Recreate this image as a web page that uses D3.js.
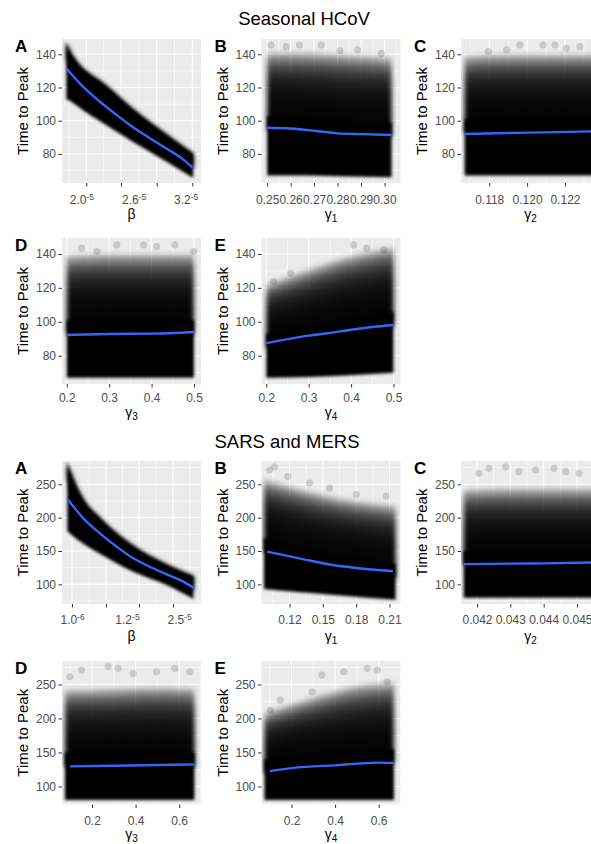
<!DOCTYPE html>
<html>
<head>
<meta charset="utf-8">
<title>Time to Peak</title>
<script src="https://cdn.jsdelivr.net/npm/d3@7"></script>
<style>
  body { margin: 0; background: #fff; }
  svg { display: block; font-family: "Liberation Sans", Arial, sans-serif; }
</style>
</head>
<body>
<script>
// ---------- Seasonal HCoV ----------
const hcovYTicks = [80, 100, 120, 140];
const hcovRow1Y = [62.5, 149.2];
const hcovRow2Y = [63.3, 149.4];

// A: beta (units of 1e-5)
const hcovBetaRange  = [1.77, 3.37];
const hcovBeta       = [1.82, 1.86, 1.93, 2.05, 2.2, 2.58, 2.97, 3.28];
const hcovBetaLow    = [113, 112, 109.5, 105, 100, 87.5, 75.5, 65.5];
const hcovBetaHigh   = [147, 142, 136, 129.5, 124, 107, 91.5, 80];
const hcovBetaFitX   = [1.82, 2.0, 2.2, 2.39, 2.58, 2.77, 2.97, 3.16, 3.27];
const hcovBetaFitY   = [131.6, 121.1, 111.7, 103.8, 96.4, 89.9, 83.3, 76.9, 71.9];
const hcovBetaTicks  = [2.05, 2.45, 2.86, 3.27];
const hcovBetaLabels = [[2.0, "2.0", "-5"], [2.6, "2.6", "-5"], [3.2, "3.2", "-5"]];

// B: gamma1
const hcovG1Range = [0.2476, 0.3068];
const hcovG1      = [0.25, 0.265, 0.28, 0.303];
const hcovG1Low   = [67, 67, 66.5, 66];
const hcovG1Solid = [103, 102, 100, 99];
const hcovG1High  = [141, 141, 140, 138];
const hcovG1FitX  = [0.25, 0.26, 0.27, 0.28, 0.29, 0.303];
const hcovG1FitY  = [95.8, 95.3, 94.0, 92.4, 91.9, 91.4];
const hcovG1Dots  = [[0.2517, 145.6], [0.2581, 144.6], [0.2638, 145.6], [0.273, 145.6], [0.281, 142.2], [0.2886, 142.6], [0.2986, 140.6]];
const hcovG1Ticks = [0.25, 0.26, 0.27, 0.28, 0.29, 0.30];

// C: gamma2
const hcovG2Range = [0.11651, 0.12385];
const hcovG2      = [0.1167, 0.119, 0.121, 0.1238];
const hcovG2Low   = [67, 67, 67, 67];
const hcovG2Solid = [101, 102, 102, 102];
const hcovG2High  = [139, 140, 140, 140];
const hcovG2FitX  = [0.1167, 0.119, 0.121, 0.1238];
const hcovG2FitY  = [92.0, 92.6, 93.0, 93.7];
const hcovG2Dots  = [[0.11795, 141.6], [0.11892, 142.6], [0.11962, 145.6], [0.12085, 145.6], [0.12147, 145.6], [0.12208, 143.6], [0.12279, 144.6]];
const hcovG2Ticks = [0.118, 0.120, 0.122];

// D: gamma3
const hcovG3Range = [0.1887, 0.5165];
const hcovG3      = [0.2, 0.3, 0.4, 0.5];
const hcovG3Low   = [67, 67, 67, 67];
const hcovG3Solid = [101, 101, 101, 101];
const hcovG3High  = [139, 140, 140, 140];
const hcovG3FitX  = [0.2, 0.3, 0.4, 0.5];
const hcovG3FitY  = [92.2, 92.8, 93.0, 94.0];
const hcovG3Dots  = [[0.235, 143.4], [0.271, 141.4], [0.318, 145.3], [0.381, 145.3], [0.412, 144.4], [0.455, 145.3], [0.499, 141.4]];
const hcovG3Ticks = [0.2, 0.3, 0.4, 0.5];

// E: gamma4
const hcovG4Range = [0.1887, 0.5165];
const hcovG4      = [0.2, 0.3, 0.4, 0.5];
const hcovG4Low   = [67, 67.5, 68.5, 70];
const hcovG4Solid = [93, 97, 102, 106];
const hcovG4High  = [122, 131, 139, 144];
const hcovG4FitX  = [0.2, 0.3, 0.35, 0.4, 0.45, 0.5];
const hcovG4FitY  = [87.4, 91.8, 93.4, 95.3, 96.9, 98.1];
const hcovG4Dots  = [[0.217, 123.7], [0.257, 128.6], [0.406, 145.3], [0.437, 143.4], [0.477, 142.4]];
const hcovG4Ticks = [0.2, 0.3, 0.4, 0.5];

// ---------- SARS and MERS ----------
const sarsYTicks = [100, 150, 200, 250];
const sarsRow1Y = [70.5, 285];
const sarsRow2Y = [73.5, 284.4];

// A: beta (units of 1e-5)
const sarsBetaRange  = [-0.12, 3.0];
const sarsBeta       = [0.0, 0.13, 0.36, 0.73, 1.48, 2.23, 2.83];
const sarsBetaLow    = [180, 172, 161, 146, 119, 99, 78];
const sarsBetaHigh   = [282, 258, 227, 199, 157, 129, 112];
const sarsBetaFitX   = [0.02, 0.36, 0.73, 1.11, 1.48, 1.86, 2.23, 2.6, 2.83];
const sarsBetaFitY   = [226.5, 199, 176.5, 156.4, 139, 126, 115, 104, 95];
const sarsBetaTicks  = [0.104, 0.868, 1.608, 2.372];
const sarsBetaLabels = [[0.12, "1.0", "-6"], [1.35, "1.2", "-5"], [2.52, "2.5", "-5"]];

// B: gamma1
const sarsG1Range = [0.0948, 0.2199];
const sarsG1      = [0.097, 0.13, 0.16, 0.19, 0.2155];
const sarsG1Low   = [93, 88, 84, 80, 77];
const sarsG1Solid = [170, 155, 145, 137, 130];
const sarsG1High  = [258, 243, 231, 223, 218];
const sarsG1FitX  = [0.0999, 0.129, 0.159, 0.189, 0.213];
const sarsG1FitY  = [149, 139, 129, 123, 119.6];
const sarsG1Dots  = [[0.102, 271.5], [0.1065, 276.3], [0.1185, 261.6], [0.138, 252], [0.156, 244.6], [0.18, 234.7], [0.207, 232.3]];
const sarsG1Ticks = [0.12, 0.15, 0.18, 0.21];

// C: gamma2
const sarsG2Range = [0.04152, 0.04569];
const sarsG2      = [0.0416, 0.043, 0.044, 0.0458];
const sarsG2Low   = [80, 80, 80, 80];
const sarsG2Solid = [150, 150, 150, 150];
const sarsG2High  = [242, 244, 244, 244];
const sarsG2FitX  = [0.0416, 0.043, 0.044, 0.0458];
const sarsG2FitY  = [130.3, 131, 131.5, 133];
const sarsG2Dots  = [[0.04206, 266.6], [0.04236, 274], [0.04286, 276.3], [0.04326, 269], [0.04376, 271.5], [0.04431, 274], [0.04466, 269], [0.04506, 266.6]];
const sarsG2Ticks = [0.042, 0.043, 0.044, 0.045];

// D: gamma3
const sarsG3Range = [0.0625, 0.700];
const sarsG3      = [0.076, 0.3, 0.5, 0.67];
const sarsG3Low   = [80, 80, 80, 80];
const sarsG3Solid = [150, 150, 150, 150];
const sarsG3High  = [242, 244, 246, 244];
const sarsG3FitX  = [0.1, 0.3, 0.5, 0.67];
const sarsG3FitY  = [129.5, 130.5, 131.5, 132.4];
const sarsG3Dots  = [[0.099, 261.2], [0.152, 271], [0.274, 276], [0.32, 273.6], [0.389, 266.2], [0.496, 268.6], [0.58, 273.6], [0.649, 268.6]];
const sarsG3Ticks = [0.2, 0.4, 0.6];

// E: gamma4
const sarsG4Range = [0.0625, 0.700];
const sarsG4      = [0.076, 0.3, 0.5, 0.67];
const sarsG4Low   = [80, 80, 80, 80];
const sarsG4Solid = [140, 148, 152, 155];
const sarsG4High  = [208, 231, 248, 253];
const sarsG4FitX  = [0.1, 0.2, 0.3, 0.4, 0.5, 0.6, 0.67];
const sarsG4FitY  = [122.6, 127, 129.5, 131, 133.5, 135, 134.5];
const sarsG4Dots  = [[0.103, 212], [0.149, 226.8], [0.295, 239], [0.34, 263.7], [0.44, 268.6], [0.547, 273.6], [0.593, 271], [0.639, 253.8]];
const sarsG4Ticks = [0.2, 0.4, 0.6];

// ---------- layout ----------
const W = 139;
const colLeft = [62, 261.5, 461];
const rows = [
  {top: 39,  h: 144,   pad: 9,   titleY: 219, yDomain: hcovRow1Y, yTicks: hcovYTicks},
  {top: 238, h: 146,   pad: 5.5, titleY: 417, yDomain: hcovRow2Y, yTicks: hcovYTicks},
  {top: 461, h: 143,   pad: 8,   titleY: 641, yDomain: sarsRow1Y, yTicks: sarsYTicks},
  {top: 661, h: 143.5, pad: 8,   titleY: 839, yDomain: sarsRow2Y, yTicks: sarsYTicks}
];

const panels = [
  {row: 0, col: 0, letter: "A", title: ["β"], range: hcovBetaRange, x: hcovBeta, low: hcovBetaLow, solid: hcovBetaHigh, high: hcovBetaHigh,
   fitX: hcovBetaFitX, fitY: hcovBetaFitY, dots: [], ticks: hcovBetaTicks, labels: hcovBetaLabels},
  {row: 0, col: 1, letter: "B", title: ["γ", "1"], range: hcovG1Range, x: hcovG1, low: hcovG1Low, solid: hcovG1Solid, high: hcovG1High,
   fitX: hcovG1FitX, fitY: hcovG1FitY, dots: hcovG1Dots, ticks: hcovG1Ticks, fmt: ".2f"},
  {row: 0, col: 2, letter: "C", title: ["γ", "2"], range: hcovG2Range, x: hcovG2, low: hcovG2Low, solid: hcovG2Solid, high: hcovG2High,
   fitX: hcovG2FitX, fitY: hcovG2FitY, dots: hcovG2Dots, ticks: hcovG2Ticks, fmt: ".3f"},
  {row: 1, col: 0, letter: "D", title: ["γ", "3"], range: hcovG3Range, x: hcovG3, low: hcovG3Low, solid: hcovG3Solid, high: hcovG3High,
   fitX: hcovG3FitX, fitY: hcovG3FitY, dots: hcovG3Dots, ticks: hcovG3Ticks, fmt: ".1f"},
  {row: 1, col: 1, letter: "E", title: ["γ", "4"], range: hcovG4Range, x: hcovG4, low: hcovG4Low, solid: hcovG4Solid, high: hcovG4High,
   fitX: hcovG4FitX, fitY: hcovG4FitY, dots: hcovG4Dots, ticks: hcovG4Ticks, fmt: ".1f"},
  {row: 2, col: 0, letter: "A", title: ["β"], range: sarsBetaRange, x: sarsBeta, low: sarsBetaLow, solid: sarsBetaHigh, high: sarsBetaHigh,
   fitX: sarsBetaFitX, fitY: sarsBetaFitY, dots: [], ticks: sarsBetaTicks, labels: sarsBetaLabels},
  {row: 2, col: 1, letter: "B", title: ["γ", "1"], range: sarsG1Range, x: sarsG1, low: sarsG1Low, solid: sarsG1Solid, high: sarsG1High,
   fitX: sarsG1FitX, fitY: sarsG1FitY, dots: sarsG1Dots, ticks: sarsG1Ticks, fmt: ".2f"},
  {row: 2, col: 2, letter: "C", title: ["γ", "2"], range: sarsG2Range, x: sarsG2, low: sarsG2Low, solid: sarsG2Solid, high: sarsG2High,
   fitX: sarsG2FitX, fitY: sarsG2FitY, dots: sarsG2Dots, ticks: sarsG2Ticks, fmt: ".3f"},
  {row: 3, col: 0, letter: "D", title: ["γ", "3"], range: sarsG3Range, x: sarsG3, low: sarsG3Low, solid: sarsG3Solid, high: sarsG3High,
   fitX: sarsG3FitX, fitY: sarsG3FitY, dots: sarsG3Dots, ticks: sarsG3Ticks, fmt: ".1f"},
  {row: 3, col: 1, letter: "E", title: ["γ", "4"], range: sarsG4Range, x: sarsG4, low: sarsG4Low, solid: sarsG4Solid, high: sarsG4High,
   fitX: sarsG4FitX, fitY: sarsG4FitY, dots: sarsG4Dots, ticks: sarsG4Ticks, fmt: ".1f"}
];

const FONT = "Liberation Sans, Arial, sans-serif";

const svg = d3.select("body").append("svg")
  .attr("width", 591)
  .attr("height", 844);

const defs = svg.append("defs");
defs.append("filter").attr("id", "soft")
  .attr("x", "-5%").attr("y", "-5%").attr("width", "110%").attr("height", "110%")
  .append("feGaussianBlur").attr("stdDeviation", 1.6);
defs.append("filter").attr("id", "haze")
  .attr("x", "-10%").attr("y", "-10%").attr("width", "120%").attr("height", "120%")
  .append("feGaussianBlur").attr("stdDeviation", 2.6);

svg.append("text").attr("x", 304).attr("y", 25)
  .attr("text-anchor", "middle").attr("font-size", 18.5)
  .text("Seasonal HCoV");
svg.append("text").attr("x", 287).attr("y", 448)
  .attr("text-anchor", "middle").attr("font-size", 18.5)
  .text("SARS and MERS");

// midpoints between ticks, plus half a step past each end
function minorOf(t) {
  const s = t[1] - t[0], e = t[t.length - 1] - t[t.length - 2];
  const mids = t.slice(1).map((v, k) => (v + t[k]) / 2);
  return [t[0] - s / 2, ...mids, t[t.length - 1] + e / 2];
}

panels.forEach((p, i) => {
  const r = rows[p.row];
  const left = colLeft[p.col];
  const g = svg.append("g").attr("transform", `translate(${left},${r.top})`);

  const x = d3.scaleLinear().domain(p.range).range([0, W]);
  const y = d3.scaleLinear().domain(r.yDomain).range([r.h, 0]);
  const inX = v => v >= p.range[0] && v <= p.range[1];
  const inY = v => v >= r.yDomain[0] && v <= r.yDomain[1];

  g.append("rect").attr("width", W).attr("height", r.h).attr("fill", "#ebebeb");

  // grid
  g.selectAll(".gx-minor").data(minorOf(p.ticks).filter(inX)).join("line")
    .attr("x1", d => x(d)).attr("x2", d => x(d)).attr("y1", 0).attr("y2", r.h)
    .attr("stroke", "#fff").attr("stroke-width", 0.55);
  g.selectAll(".gy-minor").data(minorOf(r.yTicks).filter(inY)).join("line")
    .attr("x1", 0).attr("x2", W).attr("y1", d => y(d)).attr("y2", d => y(d))
    .attr("stroke", "#fff").attr("stroke-width", 0.55);
  g.selectAll(".gx").data(p.ticks.filter(inX)).join("line")
    .attr("x1", d => x(d)).attr("x2", d => x(d)).attr("y1", 0).attr("y2", r.h)
    .attr("stroke", "#fff").attr("stroke-width", 1.1);
  g.selectAll(".gy").data(r.yTicks).join("line")
    .attr("x1", 0).attr("x2", W).attr("y1", d => y(d)).attr("y2", d => y(d))
    .attr("stroke", "#fff").attr("stroke-width", 1.1);

  // point cloud: solid core plus stacked translucent layers fading upward
  defs.append("clipPath").attr("id", "clip" + i)
    .append("rect").attr("width", W).attr("height", r.h);
  const cloud = g.append("g").attr("clip-path", `url(#clip${i})`);
  const idx = d3.range(p.x.length);
  const band = (bottom, top) => d3.area().curve(d3.curveMonotoneX)
    .x(k => x(p.x[k])).y0(bottom).y1(top);

  const haze = cloud.append("g").attr("filter", "url(#haze)");
  const N = 16;
  for (let n = 1; n <= N; n++) {
    haze.append("path")
      .attr("d", band(k => y(p.solid[k]) + 14, k => y(p.solid[k] + (p.high[k] - p.solid[k]) * n / N))(idx))
      .attr("fill", "#000").attr("fill-opacity", 0.24);
  }
  cloud.append("g").attr("filter", "url(#soft)")
    .append("path").attr("d", band(k => y(p.low[k]), k => y(p.solid[k]))(idx))
    .attr("fill", "#000");

  cloud.selectAll("circle").data(p.dots).join("circle")
    .attr("cx", d => x(d[0])).attr("cy", d => y(d[1])).attr("r", 3.6)
    .attr("fill", "#000").attr("fill-opacity", 0.15);

  // smooth fit
  cloud.append("path")
    .attr("d", d3.line().curve(d3.curveMonotoneX)
      .x(k => x(p.fitX[k])).y(k => y(p.fitY[k]))(d3.range(p.fitX.length)))
    .attr("fill", "none").attr("stroke", "#3366ff").attr("stroke-width", 2.4);

  // axes
  const ya = g.append("g")
    .call(d3.axisLeft(y).tickValues(r.yTicks).tickSize(3.5).tickPadding(2.5).tickFormat(d3.format("d")));
  ya.select(".domain").remove();
  ya.attr("font-family", FONT).attr("font-size", 12).attr("color", "#333");
  ya.selectAll("text").attr("fill", "#4d4d4d");

  const xa = g.append("g").attr("transform", `translate(0,${r.h})`)
    .call(d3.axisBottom(x).tickValues(p.ticks.filter(inX)).tickSize(3.5).tickPadding(r.pad)
      .tickFormat(p.labels ? () => "" : d3.format(p.fmt)));
  xa.select(".domain").remove();
  xa.attr("font-family", FONT).attr("font-size", 12).attr("color", "#333");
  xa.selectAll("text").attr("fill", "#4d4d4d");

  if (p.labels) {
    p.labels.forEach(([v, base, sup]) => {
      const t = g.append("text")
        .attr("x", x(v)).attr("y", r.h + 3.5 + r.pad).attr("dy", "0.71em")
        .attr("text-anchor", "middle").attr("font-size", 12).attr("fill", "#4d4d4d");
      t.append("tspan").text(base);
      t.append("tspan").attr("font-size", 8.5).attr("dy", -4.5).text(sup);
    });
  }

  // axis titles and panel letter
  const tt = svg.append("text")
    .attr("x", left + W / 2).attr("y", r.titleY)
    .attr("text-anchor", "middle").attr("font-size", 14);
  tt.append("tspan").text(p.title[0]);
  if (p.title[1]) tt.append("tspan").attr("font-size", 10).attr("dy", 3).text(p.title[1]);

  svg.append("text")
    .attr("transform", `translate(${left - 34},${r.top + r.h / 2}) rotate(-90)`)
    .attr("text-anchor", "middle").attr("font-size", 15)
    .text("Time to Peak");

  svg.append("text")
    .attr("x", left - 47).attr("y", r.top + 13)
    .attr("font-size", 17).attr("font-weight", "bold")
    .text(p.letter);
});
</script>
</body>
</html>
